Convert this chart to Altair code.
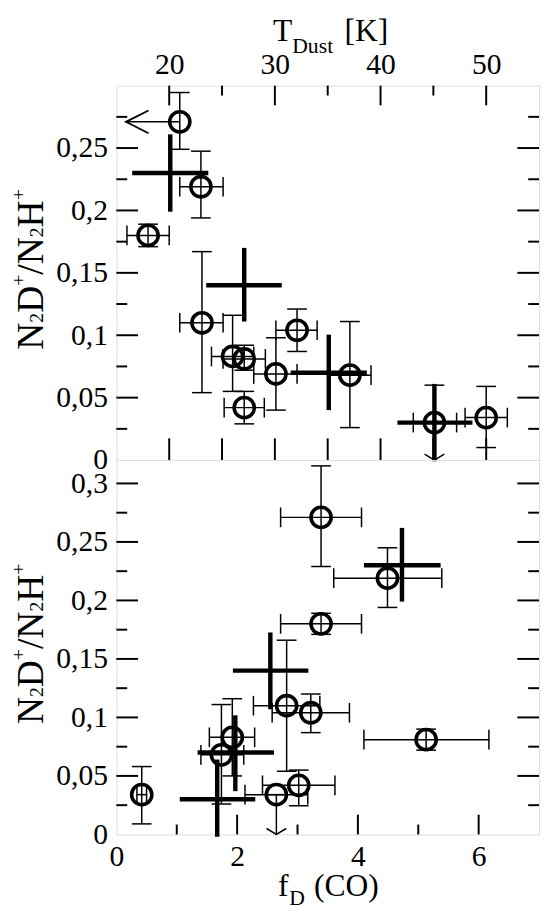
import altair as alt
import pandas as pd

FONT = "Liberation Serif"
W, H = 429, 380

# ---------------- data: top panel (T_dust vs N2D+/N2H+) ----------------
t_T   = [21.0, 23.0, 18.0, 23.1, 26.0, 27.1, 27.1, 30.1, 32.1, 37.1, 45.1, 50.0]
t_R   = [0.271, 0.219, 0.180, 0.110, 0.083, 0.081, 0.042, 0.069, 0.104, 0.068, 0.030, 0.034]
t_Tlo = [15.9, 21.0, 16.0, 21.0, 24.0, 25.1, 25.2, 28.0, 30.1, 35.2, 43.1, 48.0]
t_Thi = [21.0, 25.1, 20.0, 25.1, 28.0, 29.1, 29.0, 32.1, 34.0, 39.1, 47.2, 52.0]
t_Rlo = [0.249, 0.194, 0.171, 0.054, 0.055, 0.072, 0.029, 0.040, 0.087, 0.026, 0.0, 0.010]
t_Rhi = [0.2945, 0.2475, 0.189, 0.167, 0.116, 0.092, 0.055, 0.098, 0.121, 0.111, 0.060, 0.059]
t_xlimit = [0]      # index of points whose T is an upper limit (arrow)
t_ylimit = [10]     # index of points whose ratio error extends to zero (arrow)

# binned averages (thick crosses), top panel
tc_T   = [20.1, 27.1, 35.1, 45.1]
tc_R   = [0.230, 0.140, 0.070, 0.030]
tc_Tlo = [16.5, 23.5, 31.5, 41.6]
tc_Thi = [23.7, 30.65, 38.7, 48.7]
tc_Rlo = [0.199, 0.111, 0.040, -0.001]
tc_Rhi = [0.261, 0.170, 0.1005, 0.061]

# ---------------- data: bottom panel (f_D(CO) vs N2D+/N2H+) ----------------
b_F   = [3.39, 4.49, 3.39, 2.82, 3.22, 5.13, 1.92, 1.74, 2.65, 3.02, 0.42]
b_R   = [0.271, 0.219, 0.180, 0.110, 0.104, 0.081, 0.083, 0.068, 0.034, 0.042, 0.034]
b_Flo = [2.72, 3.60, 2.72, 2.27, 2.58, 4.10, 1.54, 1.40, 2.13, 2.42, 0.34]
b_Fhi = [4.06, 5.39, 4.06, 3.37, 3.86, 6.17, 2.29, 2.11, 3.17, 3.62, 0.50]
b_Rlo = [0.229, 0.194, 0.171, 0.054, 0.087, 0.072, 0.050, 0.026, 0.0, 0.0245, 0.009]
b_Rhi = [0.315, 0.245, 0.189, 0.166, 0.120, 0.090, 0.116, 0.111, 0.034, 0.055, 0.058]
b_xlimit = []
b_ylimit = [8]

bc_F   = [4.73, 2.55, 1.97, 1.67]
bc_R   = [0.230, 0.140, 0.070, 0.030]
bc_Flo = [4.10, 1.93, 1.345, 1.05]
bc_Fhi = [5.37, 3.18, 2.61, 2.30]
bc_Rlo = [0.199, 0.107, 0.037, -0.002]
bc_Rhi = [0.262, 0.1726, 0.1018, 0.064]

# ---------------- axes ticks / labels ----------------
top_x_labels = [20, 30, 40, 50]
top_x_major = [20, 30, 40, 50]
top_x_minor = [25, 35, 45]
top_x_mirror = [20, 25, 30, 35, 40, 45, 50]
top_y_labels = [0, 0.05, 0.1, 0.15, 0.2, 0.25]
top_y_major = [0.05, 0.1, 0.15, 0.2, 0.25]
top_y_minor = [0.025, 0.075, 0.125, 0.175, 0.225, 0.275]

bot_x_labels = [0, 2, 4, 6]
bot_x_major = [2, 4, 6]
bot_x_minor = [1, 3, 5]
bot_y_labels = [0, 0.05, 0.1, 0.15, 0.2, 0.25, 0.3]
bot_y_major = [0.05, 0.1, 0.15, 0.2, 0.25, 0.3]
bot_y_minor = [0.025, 0.075, 0.125, 0.175, 0.225, 0.275]

LABEL = 30
TITLE = 32
SUB = 22
YT = 38      # y-title main letters
YS = 20      # y-title sub/superscripts

ADV = {'N': .722, 'D': .722, 'H': .722, 'T': .611, '/': .278, '2': .5, '+': .564,
       'u': .5, 's': .389, 't': .278, ' ': .25, '[': .333, ']': .333, 'K': .722,
       'f': .333, '(': .333, ')': .333, 'C': .667, 'O': .722}

one = pd.DataFrame({'k': [0]})


def text_piece(txt, size, x, y, angle=0):
    kw = dict(text=txt, font=FONT, fontSize=size, align='left', baseline='alphabetic', color='black')
    if angle:
        kw['angle'] = angle
    return alt.Chart(one).mark_text(**kw).encode(x=alt.value(x), y=alt.value(y))


def rot_title(x0, y0):
    pieces = [('N', YT, 0), ('2', YS, 0), ('D', YT, 0), ('+', YS, -19),
              ('/N', YT, 0), ('2', YS, 0), ('H', YT, 0), ('+', YS, -19)]
    out = []
    pos = 0.0
    for txt, size, shift in pieces:
        out.append(text_piece(txt, size, x0 + shift, y0 - pos, angle=270))
        pos += sum(ADV.get(c, .5) for c in txt) * size
    return out


def build_panel(xs, xa, ys, ya, px, py, pxlo, pxhi, pylo, pyhi, xlim, ylim,
                cx, cy, cxlo, cxhi, cylo, cyhi,
                xmaj, xmin, xmirror, ymaj, ymin, titles):
    def X(f):
        return alt.X(f, type='quantitative', scale=xs, axis=xa)

    def Y(f):
        return alt.Y(f, type='quantitative', scale=ys, axis=ya)

    n = len(px)
    pts = pd.DataFrame({'x': px, 'y': py, 'xlo': pxlo, 'xhi': pxhi, 'ylo': pylo, 'yhi': pyhi})
    xcaps = pd.DataFrame(
        [{'x': pxlo[i], 'y': py[i]} for i in range(n) if i not in xlim] +
        [{'x': pxhi[i], 'y': py[i]} for i in range(n) if i not in xlim])
    ycaps = pd.DataFrame(
        [{'x': px[i], 'y': pylo[i]} for i in range(n) if i not in ylim] +
        [{'x': px[i], 'y': pyhi[i]} for i in range(n)])
    xarrows = pd.DataFrame([{'x': pxlo[i], 'y': py[i]} for i in xlim]) if xlim else None
    yarrows = pd.DataFrame([{'x': px[i], 'y': pylo[i]} for i in ylim]) if ylim else None
    cr = pd.DataFrame({'x': cx, 'y': cy, 'xlo': cxlo, 'xhi': cxhi, 'ylo': cylo, 'yhi': cyhi})

    layers = []
    # inward ticks drawn as short rules
    tk = dict(color='black', strokeWidth=2)
    if xmaj is not None:
        layers.append(alt.Chart(pd.DataFrame({'v': xmaj})).mark_rule(**tk).encode(
            x=X('v'), y=alt.value(0), y2=alt.value(20)))
    if xmin is not None:
        layers.append(alt.Chart(pd.DataFrame({'v': xmin})).mark_rule(**tk).encode(
            x=X('v'), y=alt.value(0), y2=alt.value(10)))
    layers.append(alt.Chart(pd.DataFrame({'v': xmirror[0]})).mark_rule(**tk).encode(
        x=X('v'), y=alt.value(H), y2=alt.value(H - xmirror[1])))
    if len(xmirror) > 2:
        layers.append(alt.Chart(pd.DataFrame({'v': xmirror[2]})).mark_rule(**tk).encode(
            x=X('v'), y=alt.value(H), y2=alt.value(H - xmirror[3])))
    for vals, ln in ((ymaj, 22), (ymin, 11)):
        d = pd.DataFrame({'v': vals})
        layers.append(alt.Chart(d).mark_rule(**tk).encode(y=Y('v'), x=alt.value(0), x2=alt.value(ln)))
        layers.append(alt.Chart(d).mark_rule(**tk).encode(y=Y('v'), x=alt.value(W), x2=alt.value(W - ln)))

    eb = dict(color='black', strokeWidth=1.5)
    layers.append(alt.Chart(pts).mark_rule(**eb).encode(x=X('xlo'), x2='xhi', y=Y('y')))
    layers.append(alt.Chart(pts).mark_rule(**eb).encode(x=X('x'), y=Y('ylo'), y2='yhi'))
    layers.append(alt.Chart(xcaps).mark_tick(orient='vertical', size=20, thickness=1.5, color='black',
                                             opacity=1).encode(x=X('x'), y=Y('y')))
    layers.append(alt.Chart(ycaps).mark_tick(orient='horizontal', size=20, thickness=1.5, color='black',
                                             opacity=1).encode(x=X('x'), y=Y('y')))
    if xarrows is not None:
        layers.append(alt.Chart(xarrows).mark_point(shape='M1,-0.5L0,0L1,0.5', size=2116, filled=False,
                                                    color='black', strokeWidth=1.8, opacity=1).encode(
            x=X('x'), y=Y('y')))
    if yarrows is not None:
        layers.append(alt.Chart(yarrows).mark_point(shape='M-1,-0.6L0,0L1,-0.6', size=400, filled=False,
                                                    color='black', strokeWidth=1.5, opacity=1).encode(
            x=X('x'), y=Y('y')))
    layers.append(alt.Chart(pts).mark_point(shape='circle', size=420, filled=False, color='black',
                                            strokeWidth=3.6, opacity=1).encode(x=X('x'), y=Y('y')))
    cs = dict(color='black', strokeWidth=4.5)
    layers.append(alt.Chart(cr).mark_rule(**cs).encode(x=X('xlo'), x2='xhi', y=Y('y')))
    layers.append(alt.Chart(cr).mark_rule(**cs).encode(x=X('x'), y=Y('ylo'), y2='yhi'))
    layers += titles
    return alt.layer(*layers).properties(width=W, height=H)


ycomma = "replace(toString(datum.value), '.', ',')"
lab = dict(labelFont=FONT, labelFontSize=LABEL, labelColor='black', ticks=False, tickSize=0,
           domain=False, grid=False, title=None, labelOverlap=False, labelFlush=False)

top_xs = alt.Scale(domain=[15, 55], nice=False, zero=False)
top_ys = alt.Scale(domain=[0, 0.3], nice=False, zero=False)
top_xa = alt.Axis(orient='top', values=top_x_labels, labelPadding=6, **lab)
top_ya = alt.Axis(orient='left', values=top_y_labels, labelPadding=9, labelExpr=ycomma, **lab)

bot_xs = alt.Scale(domain=[0, 7], nice=False, zero=False)
bot_ys = alt.Scale(domain=[0, 0.32], nice=False, zero=False)
bot_xa = alt.Axis(orient='bottom', values=bot_x_labels, labelPadding=8, **lab)
bot_ya = alt.Axis(orient='left', values=bot_y_labels, labelPadding=9, labelExpr=ycomma, **lab)

top_titles = [
    text_piece('T', TITLE, 159, -45),
    text_piece('Dust', SUB, 178.5, -33),
    text_piece('[K]', TITLE, 231.5, -45),
    alt.Chart(one).mark_rule(opacity=0, strokeWidth=0.1).encode(
        x=alt.value(-109.5), x2=alt.value(-109.5), y=alt.value(-71), y2=alt.value(-70)),
] + rot_title(-74.2, 268)

bot_titles = [
    text_piece('f', TITLE, 164, 442),
    text_piece('D', SUB, 175.5, 452),
    text_piece('(CO)', TITLE, 200.5, 442),
] + rot_title(-74.2, 268)

top = build_panel(top_xs, top_xa, top_ys, top_ya, t_T, t_R, t_Tlo, t_Thi, t_Rlo, t_Rhi,
                  t_xlimit, t_ylimit, tc_T, tc_R, tc_Tlo, tc_Thi, tc_Rlo, tc_Rhi,
                  top_x_major, top_x_minor, (top_x_mirror, 22), top_y_major, top_y_minor, top_titles)

bot = build_panel(bot_xs, bot_xa, bot_ys, bot_ya, b_F, b_R, b_Flo, b_Fhi, b_Rlo, b_Rhi,
                  b_xlimit, b_ylimit, bc_F, bc_R, bc_Flo, bc_Fhi, bc_Rlo, bc_Rhi,
                  None, None, (bot_x_major, 20, bot_x_minor, 10), bot_y_major, bot_y_minor, bot_titles)

chart = alt.vconcat(top, bot, spacing=0, bounds='flush').properties(padding=0).configure_view(
    stroke='black', strokeWidth=2.2).configure_axis(labelFont=FONT).configure(background='white')

chart.save("out.html", embed_options={"renderer": "svg", "actions": False})
